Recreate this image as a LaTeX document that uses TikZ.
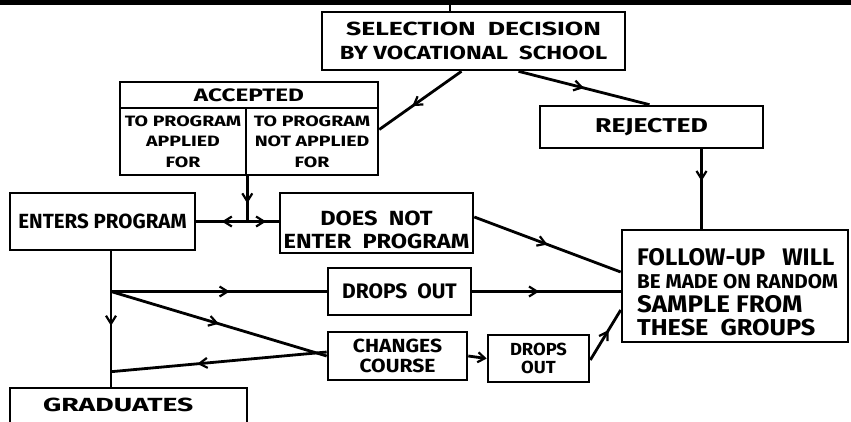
\documentclass[tikz,border=0pt]{standalone}
\usepackage{fontspec}
\setmainfont{Fira Sans}
\usetikzlibrary{arrows.meta,decorations.markings,calc}
\newcommand\hfont[3]{\bfseries\fontsize{#1}{#2}\selectfont\addfontfeature{FakeStretch=#3}}
\tikzset{
  box/.style={draw,line width=2.6pt,rectangle,inner sep=2pt,align=center},
  conn/.style={line width=2.8pt},
  midarrow/.style={postaction={decorate},decoration={markings,mark=at position #1 with {\arrow{Straight Barb[length=8pt,width=10pt,line width=2.2pt]}}}},
  endarrow/.style={-{Straight Barb[length=7pt,width=10pt,line width=2.2pt]}}
}
\begin{document}
\begin{tikzpicture}[x=1pt,y=-1pt]
\useasboundingbox (0,0) rectangle (851,421);
\clip (0,0) rectangle (851,421);
\fill[black] (0,0) rectangle (851,5);
% nodes
\node[box,minimum width=303pt,minimum height=58pt,font=\hfont{19}{23.5}{1.4}] (sel) at (473.5,41) {SELECTION\hspace{12pt}DECISION\\{\addfontfeature{FakeStretch=1.25}BY VOCATIONAL\ \ SCHOOL}};
\node[box,minimum width=258pt,minimum height=26pt,font=\hfont{18}{20}{1.35}] (acc) at (249,95) {ACCEPTED};
\node[box,minimum width=126pt,minimum height=67pt,font=\hfont{15}{20.5}{1.3}] (accl) at (183,141.5) {TO PROGRAM\\APPLIED\\FOR};
\node[box,minimum width=132pt,minimum height=67pt,font=\hfont{15}{20.5}{1.3}] (accr) at (312,141.5) {TO PROGRAM\\NOT APPLIED\\FOR};
\node[box,minimum width=223pt,minimum height=42pt,font=\hfont{20}{22}{1.33}] (rej) at (651.5,127) {REJECTED};
\node[box,minimum width=185pt,minimum height=57pt,font=\hfont{20.5}{22}{1.0}] (ent) at (102.5,221.5) {ENTERS PROGRAM};
\node[box,minimum width=193pt,minimum height=60pt,font=\hfont{20.5}{23}{1.15}] (dne) at (376.5,223) {\rule{0pt}{28pt}DOES\ \ NOT\\ENTER\ \ PROGRAM};
\node[box,minimum width=226pt,minimum height=112pt] (fol) at (735,286) {};
\node[anchor=north west,inner sep=0pt,align=left,font=\bfseries\fontsize{24}{23.5}\selectfont] (folt) at (637,248)
  {FOLLOW-UP\ \ \ WILL\\{\hfont{20}{23.5}{1.03}BE MADE ON RANDOM}\\{\addfontfeature{FakeStretch=1.08}SAMPLE FROM}\\{\hfont{23}{23.5}{1.1}THESE\ \ GROUPS}};
\node[box,minimum width=143pt,minimum height=47pt,font=\hfont{21}{22}{1.0}] (dro) at (399.5,291.5) {DROPS\ \ OUT};
\node[box,minimum width=139pt,minimum height=48pt,font=\hfont{19}{20}{1.11}] (chg) at (397.5,356) {CHANGES\\COURSE};
\node[box,minimum width=101pt,minimum height=47pt,font=\hfont{17.5}{18}{1.05}] (drt) at (538.5,358.5) {DROPS\\OUT};
\node[box,minimum width=237pt,minimum height=48pt,text depth=14pt,inner xsep=33pt,text width=171pt,align=left,font=\hfont{19}{20}{1.49}] (gra) at (128.5,412) {GRADUATES};
% connectors
\coordinate (top) at (450,5);
\draw[conn] (top) -- (top |- sel.north);
\draw[conn,midarrow=0.6] ([xshift=-12pt]sel.south) -- ([yshift=12pt]accr.east);
\draw[conn,midarrow=0.5] ([xshift=45pt]sel.south) -- ([xshift=-2pt]rej.north);
\coordinate (j1) at (accl.south east |- ent.east);
\draw[conn,midarrow=0.6] (accl.south east) -- (j1);
\draw[conn,midarrow=0.5] (j1) -- (ent.east);
\draw[conn,midarrow=0.6] (j1) -- (j1 -| dne.west);
\draw[conn,midarrow=0.5] ([yshift=6pt]dne.east) -- ([yshift=14pt]fol.west);
\draw[conn,midarrow=0.4] ([xshift=50pt]rej.south) -- ([xshift=50pt]rej.south |- fol.north);
\coordinate (b0) at ([xshift=8.5pt]ent.south);
\coordinate (b1) at (b0 |- dro.west);
\coordinate (b2) at ($(b0 |- gra.north)+(0,-15)$);
\draw[conn,midarrow=0.55] (b0) -- (b0 |- gra.north);
\draw[conn,midarrow=0.55] (b1) -- (dro.west);
\draw[conn,midarrow=0.45] (dro.east) -- (dro.east -| fol.west);
\draw[conn,midarrow=0.5] (b1) -- (chg.west);
\draw[conn,midarrow=0.6] ([yshift=4pt]chg.west) -- (b2);
\draw[conn,endarrow] (chg.east) -- (drt.west);
\draw[conn,midarrow=0.6] ([yshift=-1.5pt]drt.east) -- ([yshift=-24pt]fol.west);
\end{tikzpicture}
\end{document}
